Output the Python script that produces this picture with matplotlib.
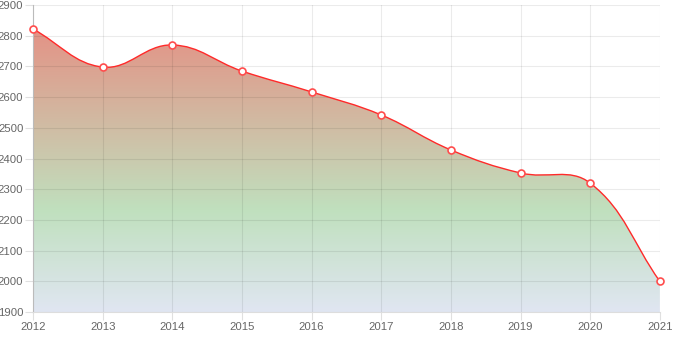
import numpy as np
import matplotlib.pyplot as plt
from matplotlib.path import Path
from matplotlib.patches import PathPatch
from matplotlib.colors import LinearSegmentedColormap

# values
years = [2012, 2013, 2014, 2015, 2016, 2017, 2018, 2019, 2020, 2021]
values = [2822, 2698, 2770, 2685, 2617, 2542, 2428, 2353, 2320, 2000]
y_ticks = list(range(1900, 3000, 100))

YMIN, YMAX = 1900, 2900

plt.rcParams['font.family'] = ['Liberation Sans', 'DejaVu Sans']

fig = plt.figure(figsize=(6.74, 3.37), dpi=100)
ax = fig.add_axes([0.049, 0.074, 0.93, 0.911])
ax.set_xlim(years[0], years[-1])
ax.set_ylim(YMIN, YMAX)

# px per data unit, so the spline tension works like chart.js (pixel space)
sx = 627 / (years[-1] - years[0])
sy = 307 / (YMAX - YMIN)

x = np.array(years, dtype=float)
y = np.array(values, dtype=float)
tension = 0.4
cp_prev = []
cp_next = []
for i in range(len(x)):
    p = (x[max(i - 1, 0)], y[max(i - 1, 0)])
    n = (x[min(i + 1, len(x) - 1)], y[min(i + 1, len(x) - 1)])
    d01 = np.hypot((x[i] - p[0]) * sx, (y[i] - p[1]) * sy)
    d12 = np.hypot((n[0] - x[i]) * sx, (n[1] - y[i]) * sy)
    tot = d01 + d12
    fa = tension * d01 / tot if tot else 0
    fb = tension * d12 / tot if tot else 0
    cp_prev.append((x[i] - fa * (n[0] - p[0]), y[i] - fa * (n[1] - p[1])))
    cp_next.append((x[i] + fb * (n[0] - p[0]), y[i] + fb * (n[1] - p[1])))

verts = [(x[0], y[0])]
codes = [Path.MOVETO]
for i in range(1, len(x)):
    verts += [cp_next[i - 1], cp_prev[i], (x[i], y[i])]
    codes += [Path.CURVE4] * 3
line_path = Path(verts, codes)

fill_verts = verts + [(x[-1], YMIN), (x[0], YMIN), (x[0], y[0])]
fill_codes = codes + [Path.LINETO, Path.LINETO, Path.CLOSEPOLY]
fill_path = Path(fill_verts, fill_codes)

# gradient fill, bottom -> top
cmap = LinearSegmentedColormap.from_list("grad", [
    (0.0, (224 / 255, 230 / 255, 242 / 255)),
    (0.33, (192 / 255, 224 / 255, 190 / 255)),
    (1.0, (232 / 255, 136 / 255, 126 / 255)),
])
grad = np.linspace(0, 1, 256).reshape(-1, 1)
img = ax.imshow(grad, cmap=cmap, aspect="auto", origin="lower",
                extent=[years[0], years[-1], YMIN, YMAX], zorder=1)
patch = PathPatch(fill_path, facecolor="none", edgecolor="none")
ax.add_patch(patch)
img.set_clip_path(patch)

ax.add_patch(PathPatch(line_path, facecolor="none", edgecolor="#ff2a2a",
                       lw=1.0, zorder=3))
ax.plot(years, values, "o", ms=5, mfc="white", mec="#ff4d4d", mew=1.2,
        zorder=4, clip_on=False)

ax.set_xticks(years)
ax.set_yticks(y_ticks)
ax.tick_params(labelsize=8.2, colors="#666666", length=6, width=0.8, pad=1)
ax.tick_params(axis="both", color="#e0e0e0")
ax.grid(True, color="black", alpha=0.08, lw=0.8, zorder=2)
for s in ["top", "right"]:
    ax.spines[s].set_visible(False)
ax.spines["left"].set_color("#bbbbbb")
ax.spines["bottom"].set_color("#dddddd")
ax.spines["left"].set_linewidth(0.8)
ax.spines["bottom"].set_linewidth(0.8)

fig.savefig("out.png", dpi=100)
